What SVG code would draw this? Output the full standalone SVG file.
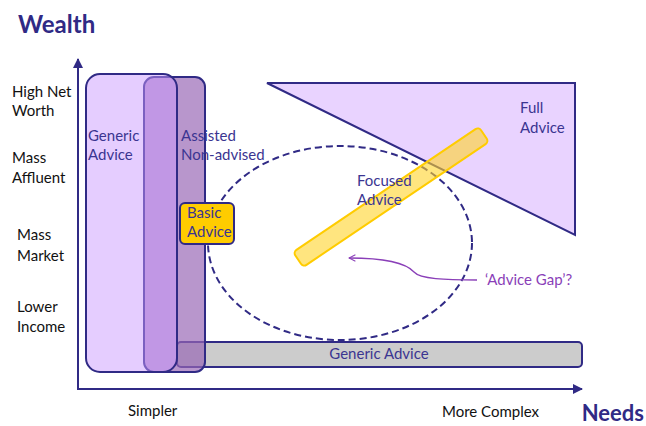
<svg xmlns="http://www.w3.org/2000/svg" width="646" height="426" viewBox="0 0 646 426">
  <defs>
    <style>
      text { font-family: Lato, "Open Sans", "Liberation Sans", sans-serif; font-size: 15px; }
      .title { font-size: 22px; font-weight: bold; fill: #302a85; }
      .axislbl { fill: #111; }
      .lbl { fill: #3b3591; }
      .gap { fill: #8a3fb8; }
      .edge { stroke: #302a85; stroke-width: 2; }
    </style>
    <marker id="axisHead" viewBox="0 0 10 10" refX="9" refY="5" markerWidth="5" markerHeight="5" orient="auto" markerUnits="strokeWidth">
      <path d="M0,0 L10,5 L0,10 z" fill="#302a85"/>
    </marker>
    <marker id="gapHead" viewBox="0 0 10 10" refX="9" refY="5" markerWidth="8" markerHeight="8" orient="auto" markerUnits="userSpaceOnUse">
      <path d="M1,1 L9,5 L1,9" fill="none" stroke="#8a3fb8" stroke-width="1.3"/>
    </marker>
  </defs>

  <rect width="646" height="426" fill="#ffffff"/>

  <!-- axis titles and tick labels -->
  <g id="axis-labels">
    <text class="title" x="18" y="33" style="font-size:24px">Wealth</text>
    <text class="title" x="644" y="421" text-anchor="end">Needs</text>
    <text class="axislbl" x="12" y="97">High Net</text>
    <text class="axislbl" x="12" y="116">Worth</text>
    <text class="axislbl" x="12" y="163">Mass</text>
    <text class="axislbl" x="12" y="183">Affluent</text>
    <text class="axislbl" x="17" y="240">Mass</text>
    <text class="axislbl" x="17" y="261">Market</text>
    <text class="axislbl" x="17" y="312">Lower</text>
    <text class="axislbl" x="17" y="332">Income</text>
    <text class="axislbl" x="128" y="416">Simpler</text>
    <text class="axislbl" x="442" y="417">More Complex</text>
  </g>

  <!-- horizontal generic advice band -->
  <g id="generic-band">
    <rect x="177" y="342" width="405" height="25" rx="4" fill="#cccccc" class="edge"/>
    <text class="lbl" x="379" y="359" text-anchor="middle">Generic Advice</text>
  </g>

  <!-- assisted / non-advised column -->
  <g id="assisted">
    <rect x="144" y="77" width="61" height="295" rx="10" fill="#9867b5" fill-opacity="0.69" class="edge"/>
  </g>

  <!-- generic advice column -->
  <g id="generic-column">
    <rect x="86" y="74" width="91" height="298" rx="14" fill="#ca99ff" fill-opacity="0.49" class="edge"/>
    <text class="lbl" x="88" y="141">Generic</text>
    <text class="lbl" x="88" y="160">Advice</text>
  </g>

  <g id="assisted-label">
    <text class="lbl" x="181" y="141">Assisted</text>
    <text class="lbl" x="181" y="160">Non-advised</text>
  </g>

  <!-- full advice triangle -->
  <g id="full-advice">
    <polygon points="267,83 575,83 575,235" fill="#e9d3ff" class="edge" stroke-linejoin="miter"/>
    <text class="lbl" x="520" y="113">Full</text>
    <text class="lbl" x="520" y="133">Advice</text>
  </g>

  <!-- dashed advice-gap region -->
  <g id="gap-region">
    <ellipse cx="340" cy="243" rx="132" ry="97" fill="none" stroke="#302a85" stroke-width="2" stroke-dasharray="7,4"/>
  </g>

  <!-- focused advice bar -->
  <g id="focused-advice">
    <rect x="-112" y="-9" width="224" height="18" rx="4" transform="translate(391,197) rotate(-34)" fill="#ffd42a" fill-opacity="0.6" stroke="#ffcc00" stroke-width="2"/>
    <text class="lbl" x="357" y="186">Focused</text>
    <text class="lbl" x="357" y="205">Advice</text>
  </g>

  <!-- basic advice box -->
  <g id="basic-advice">
    <rect x="180" y="203" width="54" height="41" rx="5" fill="#ffcc00" class="edge"/>
    <text class="lbl" x="187" y="218">Basic</text>
    <text class="lbl" x="187" y="237">Advice</text>
  </g>

  <!-- connectors -->
  <g id="connectors">
    <line x1="78" y1="389" x2="78" y2="59" class="edge" marker-end="url(#axisHead)"/>
    <line x1="77" y1="389" x2="582" y2="389" class="edge" marker-end="url(#axisHead)"/>
    <path d="M477,280 C445,280 420,279 414,272 C405,262 380,258 349,258" fill="none" stroke="#8a3fb8" stroke-width="1.3" marker-end="url(#gapHead)"/>
  </g>

  <g id="gap-label">
    <text class="gap" x="485" y="285">‘Advice Gap’?</text>
  </g>
</svg>
